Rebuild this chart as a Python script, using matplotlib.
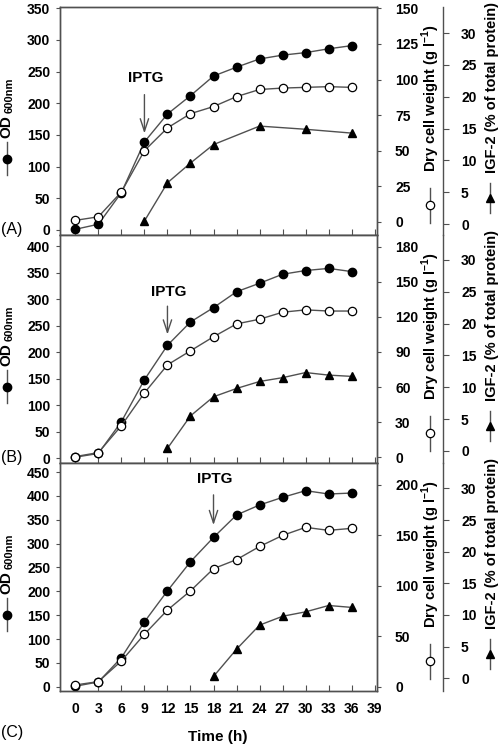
import matplotlib
matplotlib.use("Agg")
import matplotlib.pyplot as plt

plt.rcParams['font.family'] = ['Liberation Sans', 'DejaVu Sans']
plt.rcParams['font.weight'] = 'bold'
plt.rcParams['mathtext.fontset'] = 'custom'
plt.rcParams['mathtext.bf'] = 'Liberation Sans:bold'
plt.rcParams['mathtext.rm'] = 'Liberation Sans:bold'

# sampling times (h)
hours = [0, 3, 6, 9, 12, 15, 18, 21, 24, 27, 30, 33, 36]
time_ticks = list(range(0, 40, 3))

# panel A
od_a = [1, 9, 59, 139, 183, 212, 243, 257, 270, 276, 280, 286, 291]
dcw_a = [1, 3.5, 21, 50, 66, 76, 81, 88, 93, 94, 94.5, 95, 94.5]
igf_hours_a = [9, 12, 15, 18, 24, 30, 36]
igf_a = [0.5, 6.5, 9.6, 12.5, 15.4, 14.9, 14.3]

# panel B
od_b = [2, 9, 69, 148, 213, 257, 284, 314, 330, 347, 354, 358, 352]
dcw_b = [0.6, 4, 27, 55, 79, 91, 103, 114, 118, 124, 126, 125, 125]
igf_hours_b = [12, 15, 18, 21, 24, 27, 30, 33, 36]
igf_b = [0.4, 5.5, 8.5, 9.8, 10.9, 11.5, 12.3, 11.9, 11.7]

# panel C
od_c = [1, 10, 61, 136, 201, 262, 313, 360, 381, 397, 411, 404, 406]
dcw_c = [1.7, 5, 25.5, 52, 76, 95, 117, 126, 139, 150, 158, 155, 157]
igf_hours_c = [18, 21, 24, 27, 30, 33, 36]
igf_c = [0.3, 4.6, 8.4, 9.8, 10.5, 11.5, 11.2]

panels = [
    dict(tag="(A)", od=od_a, dcw=dcw_a, ih=igf_hours_a, igf=igf_a,
         od_lim=(-8, 352), od_ticks=range(0, 351, 50),
         dcw_lim=(-9.3, 151), dcw_ticks=range(0, 151, 25),
         igf_lim=(-1.7, 34.1), iptg=(9, 240, 218, 148)),
    dict(tag="(B)", od=od_b, dcw=dcw_b, ih=igf_hours_b, igf=igf_b,
         od_lim=(-9, 421), od_ticks=range(0, 401, 50),
         dcw_lim=(-4.9, 190), dcw_ticks=range(0, 181, 30),
         igf_lim=(-1.9, 33.9), iptg=(12, 313, 292, 228)),
    dict(tag="(C)", od=od_c, dcw=dcw_c, ih=igf_hours_c, igf=igf_c,
         od_lim=(-9, 469), od_ticks=range(0, 451, 50),
         dcw_lim=(-4.3, 221.8), dcw_ticks=range(0, 201, 50),
         igf_lim=(-2.0, 34), iptg=(18, 436, 408, 333)),
]

line_c = '#505050'
W, H = 503, 752
fig = plt.figure(figsize=(W / 100, H / 100), dpi=100)

tops = [7, 235, 463]
for i, p in enumerate(panels):
    top = tops[i]
    ax = fig.add_axes([60 / W, 1 - (top + 228) / H, 317 / W, 228 / H])
    ax2 = ax.twinx()
    ax3 = ax.twinx()
    ax3.spines['right'].set_position(('axes', (443 - 60) / 317))
    for s in ['left', 'top', 'bottom']:
        ax3.spines[s].set_visible(False)
    for a in (ax, ax2, ax3):
        for s in a.spines.values():
            s.set_color(line_c)
            s.set_linewidth(1.0)
    ax.set_xlim(-2, 39.3)

    ax.plot(hours, p['od'], color=line_c, lw=1.0, marker='o', ms=6,
            mfc='black', mec='black', zorder=3)
    ax2.plot(hours, p['dcw'], color=line_c, lw=1.0, marker='o', ms=6,
             mfc='white', mec='black', mew=0.9, zorder=3)
    ax3.plot(p['ih'], p['igf'], color=line_c, lw=1.0, marker='^', ms=6,
             mfc='black', mec='black', zorder=3)

    ax.set_ylim(*p['od_lim'])
    ax.set_yticks(list(p['od_ticks']))
    ax2.set_ylim(*p['dcw_lim'])
    ax2.set_yticks(list(p['dcw_ticks']))
    ax3.set_ylim(*p['igf_lim'])
    ax3.set_yticks(range(0, 31, 5))

    ax.set_xticks(time_ticks)
    ax.tick_params(axis='x', direction='in', length=4, color=line_c,
                   labelsize=10, pad=8, labelbottom=(i == 2))
    ax.tick_params(axis='y', direction='out', length=3, color=line_c,
                   labelsize=10, pad=4)
    ax2.tick_params(axis='y', direction='out', length=3, color=line_c,
                    labelsize=10, pad=10)
    ax3.tick_params(axis='y', direction='out', length=4, color=line_c,
                    labelsize=10, pad=9)
    for a in (ax, ax2, ax3):
        for lab in a.get_yticklabels() + a.get_xticklabels():
            lab.set_fontweight('bold')

    # IPTG arrow
    xa, yt, y0, y1 = p['iptg']
    ax.annotate('', xy=(xa, y1), xytext=(xa, y0),
                arrowprops=dict(arrowstyle='->,head_length=0.9,head_width=0.3',
                                color=line_c, lw=1.0))
    ax.text(xa + 0.2, yt, 'IPTG', ha='center', va='center',
            fontsize=11, fontweight='bold')

    # y labels with their symbols
    tr = ax.transAxes
    ax.text(-0.168, 0.476, 'OD', rotation=90, ha='center', va='center',
            fontsize=11, fontweight='bold', transform=tr)
    ax.text(-0.158, 0.615, '600nm', rotation=90, ha='center', va='center',
            fontsize=8, fontweight='bold', transform=tr)
    ax.plot([-0.168, -0.168], [0.263, 0.408], color=line_c, lw=1.0,
            transform=tr, clip_on=False)
    ax.plot([-0.168], [0.333], marker='o', ms=6, color='black',
            transform=tr, clip_on=False)

    ax.text(1.170, 0.60, r'Dry cell weight (g l$^{\mathbf{-1}}$)',
            rotation=90, ha='center', va='center', fontsize=10.5,
            fontweight='bold', transform=tr)
    ax.plot([1.168, 1.168], [0.053, 0.206], color=line_c, lw=1.0,
            transform=tr, clip_on=False)
    ax.plot([1.168], [0.132], marker='o', ms=6, mfc='white', mec='black',
            mew=0.9, transform=tr, clip_on=False)

    ax.text(1.363, 0.645, 'IGF-2 (% of total protein)', rotation=90,
            ha='center', va='center', fontsize=10.5, fontweight='bold',
            transform=tr)
    ax.plot([1.357, 1.357], [0.096, 0.228], color=line_c, lw=1.0,
            transform=tr, clip_on=False)
    ax.plot([1.357], [0.162], marker='^', ms=6, color='black',
            transform=tr, clip_on=False)

    tag_y = -0.184 if i == 2 else 0.025
    ax.text(-0.151, tag_y, p['tag'], ha='center', va='center',
            fontsize=11.5, fontweight='normal', transform=tr)

    if i == 2:
        ax.text(0.498, -0.202, 'Time (h)', ha='center', va='center',
                fontsize=11, fontweight='bold', transform=tr)

fig.savefig('out.png', dpi=100)
